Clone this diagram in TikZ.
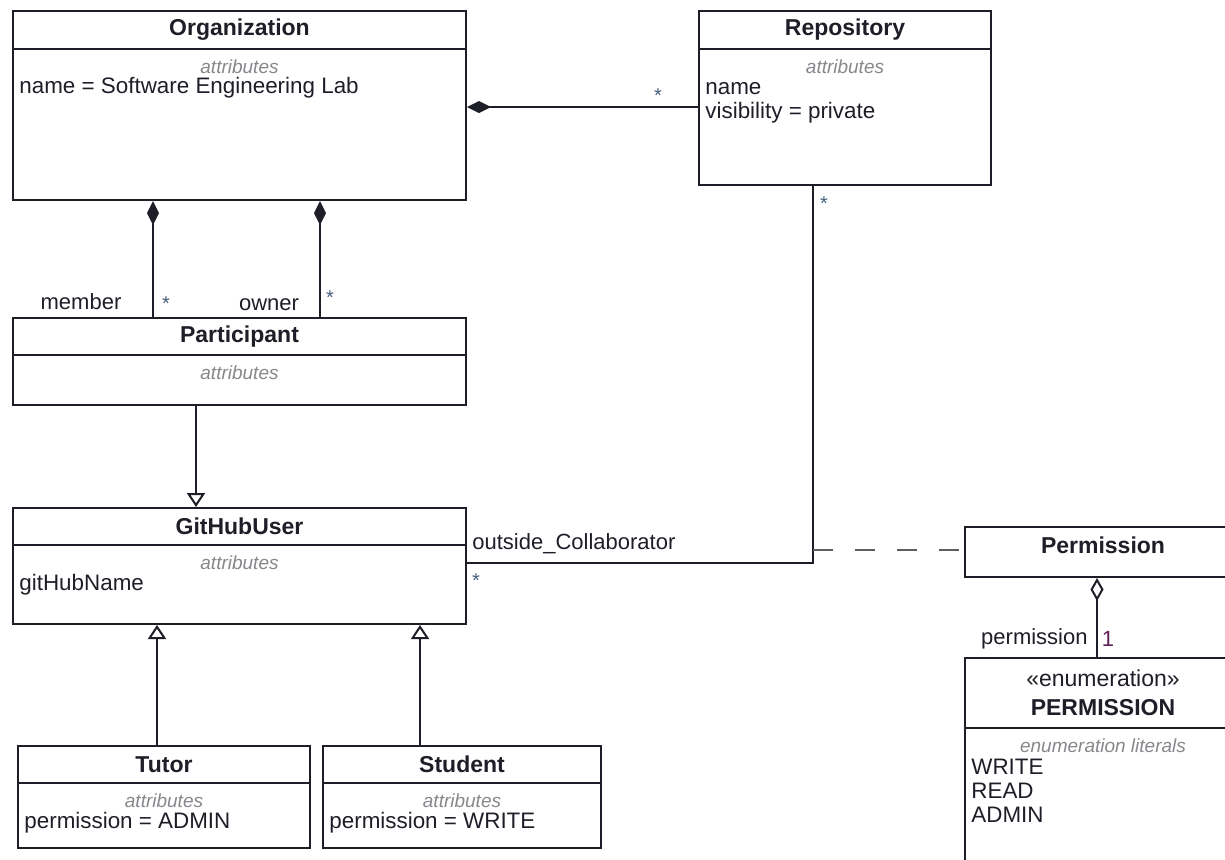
\documentclass[tikz,border=0pt]{standalone}
\usepackage{fontspec}
\setmainfont{Liberation Sans}
\usepackage{tikz}
\usetikzlibrary{arrows.meta}
\usetikzlibrary{fit}

\definecolor{umlink}{RGB}{30,30,40}
\definecolor{attrgray}{RGB}{135,135,140}
\definecolor{multblue}{RGB}{70,95,125}
\definecolor{onepurple}{RGB}{95,30,85}
\definecolor{dashgray}{RGB}{95,95,95}

\tikzset{
  classbox/.style={draw=umlink, line width=1pt, inner sep=0pt},
  classline/.style={draw=umlink, line width=1pt},
  classname/.style={font=\fontsize{11.5}{14.5}\selectfont\bfseries, text=umlink, align=center, inner sep=0pt},
  attrhead/.style={font=\fontsize{9.5}{11}\selectfont\itshape, text=attrgray, inner sep=0pt},
  attrline/.style={font=\fontsize{11.2}{13}\selectfont, text=umlink, anchor=west, inner sep=0pt},
  rolename/.style={font=\fontsize{11}{13}\selectfont, text=umlink, inner sep=0pt},
  mult/.style={font=\fontsize{10}{11}\selectfont, text=multblue, inner sep=0pt, yshift=-2pt},
  link/.style={draw=umlink, line width=1pt},
  composition/.style={link, {Diamond[length=12pt,width=6pt]}-},
  aggregation/.style={link, {Diamond[open,length=11.5pt,width=6.5pt]}-},
  generalization/.style={link, -{Triangle[open,length=7pt,width=9pt]}},
  assocclass/.style={draw=dashgray, line width=1pt, dash pattern=on 10pt off 11pt},
}

\newcommand{\umlclass}[8]{ \node[classbox, fit={( #2 , #3 ) ( #4 , #5 )}] (#1) {}; \draw[classline] ( #2 , #6 ) -- ( #4 , #6 ); \node[classname] (#1-name) at ( #2 * 0.5 + #4 * 0.5 , #3 * 0.5 + #6 * 0.5 ){#7}; \node[attrhead] (#1-head) at ( #2 * 0.5 + #4 * 0.5 , #6 + 18 ){#8};}

\begin{document}
\begin{tikzpicture}[x=0.5pt,y=-0.5pt]
        \useasboundingbox (0,0) rectangle (1225,859);
        % top
        \umlclass{org}{13}{11}{466}{200}{49}{Organization}{attributes}
        \umlclass{repo}{699}{11}{991}{185}{49}{Repository}{attributes}
        % middle
        \umlclass{part}{13}{318}{466}{405}{355}{Participant}{attributes}
        \umlclass{ghu}{13}{508}{466}{624}{545}{GitHubUser}{attributes}
        % bottom
        \umlclass{tutor}{18}{746}{310}{848}{783}{Tutor}{attributes}
        \umlclass{student}{323}{746}{601}{848}{783}{Student}{attributes}
        % right
        \node[classbox, fit={(965,527) (1241,577)}] (perm) {};
        \node[classname] (perm-name) at (1103,545) {Permission};
        \umlclass{enumperm}{965}{658}{1241}{880}{728}{{\mdseries «enumeration»}\\PERMISSION}{enumeration literals}

        % attributes
        \node[attrline] (org-a1) at (19,88) {name = Software Engineering Lab};
        \node[attrline] (repo-a1) at (705,89) {name};
        \node[attrline] (repo-a2) at (705,113) {visibility = private};
        \node[attrline] (ghu-a1) at (19,585) {gitHubName};
        \node[attrline] (tutor-a1) at (24,823) {permission = ADMIN};
        \node[attrline] (student-a1) at (329,823) {permission = WRITE};
        \node[attrline] (enumperm-a1) at (971,767) {WRITE};
        \node[attrline] (enumperm-a2) at (971,791) {READ};
        \node[attrline] (enumperm-a3) at (971,815) {ADMIN};

        % links
        \coordinate (orgrepo) at (0,107);
        \coordinate (member) at (153,0);
        \coordinate (owner) at (320,0);
        \coordinate (partgen) at (196,0);
        \coordinate (tutorgen) at (157,0);
        \coordinate (studentgen) at (420,0);
        \coordinate (collab) at (813,563);
        \coordinate (assoc) at (813,550);
        \coordinate (permlink) at (1097,0);

        \draw[composition] (org.east |- orgrepo) -- (repo.west |- orgrepo);
        \draw[composition] (org.south -| member) -- (part.north -| member);
        \draw[composition] (org.south -| owner) -- (part.north -| owner);
        \draw[generalization] (part.south -| partgen) -- (ghu.north -| partgen);
        \draw[generalization] (tutor.north -| tutorgen) -- (ghu.south -| tutorgen);
        \draw[generalization] (student.north -| studentgen) -- (ghu.south -| studentgen);
        \draw[link] (repo.south -| collab) |- (ghu.east |- collab);
        \draw[assocclass] (assoc) -- (perm.west |- assoc);
        \draw[aggregation] (perm.south -| permlink) -- (enumperm.north -| permlink);

        % text
        \node[mult] (orgrepo-m) at (658,92) {*};
        \node[rolename] (member-r) at (81,302) {member};
        \node[mult] (member-m) at (166,300) {*};
        \node[rolename] (owner-r) at (269,305) {owner};
        \node[mult] (owner-m) at (330,294) {*};
        \node[mult] (repo-m) at (824,200) {*};
        \node[rolename, anchor=west] (collab-r) at (472,544) {outside\_Collaborator};
        \node[mult] (collab-m) at (476,577) {*};
        \node[rolename, anchor=east] (permission-r) at (1088,639) {permission};
        \node[rolename, text=onepurple] (permission-m) at (1108,639) {1};
\end{tikzpicture}
\end{document}
